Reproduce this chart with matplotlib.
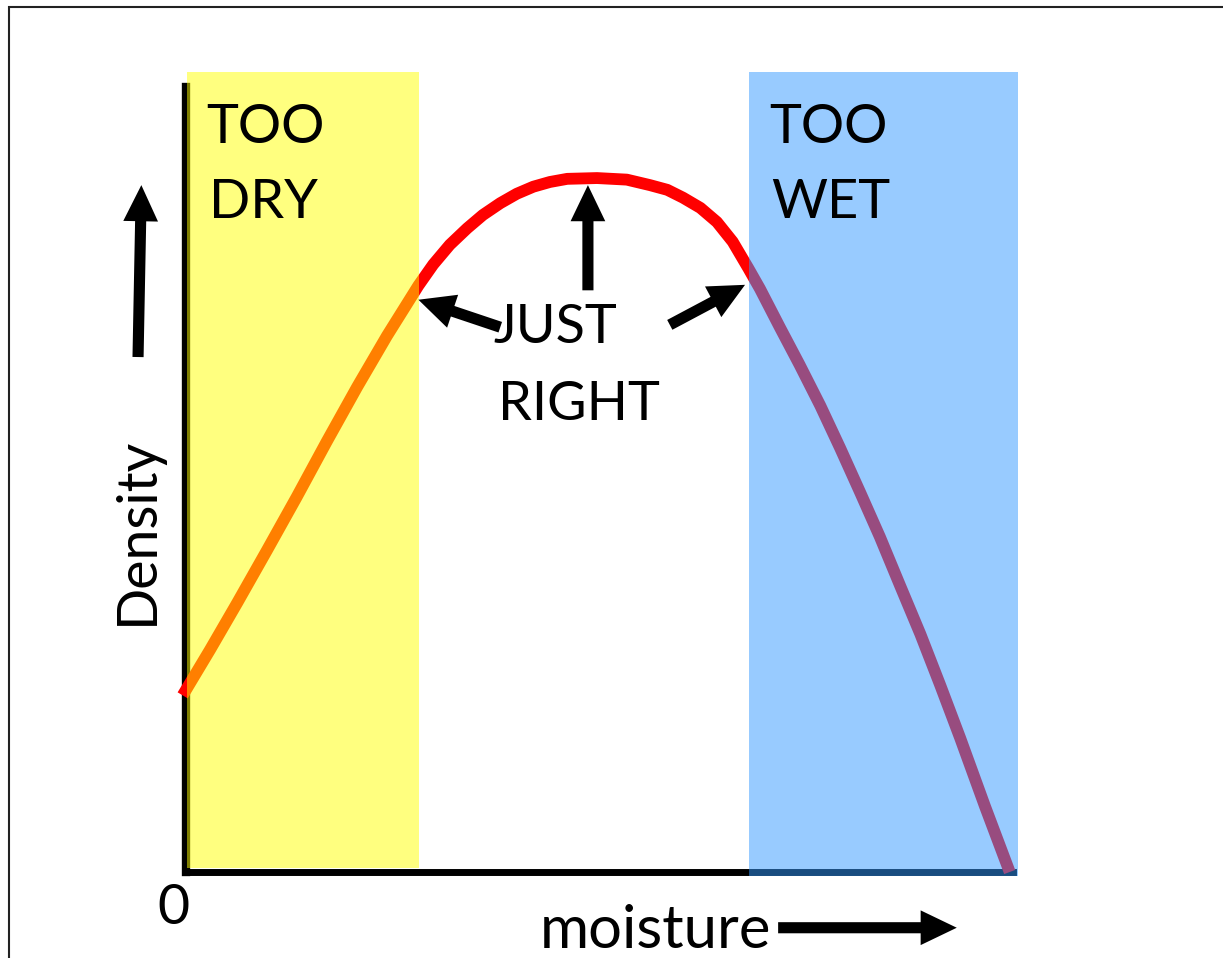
import matplotlib.pyplot as plt
from matplotlib.patches import Rectangle

plt.rcParams['font.family'] = ['Lato', 'DejaVu Sans']

# density curve (moisture 0-10, density 0-10)
moisture = [-0.04, 0.29, 0.62, 0.98, 1.34, 1.70, 2.07, 2.43, 2.81, 2.99, 3.19,
            3.40, 3.59, 3.80, 4.00, 4.20, 4.40, 4.61, 4.97, 5.33, 5.61, 5.82,
            6.01, 6.22, 6.42, 6.61, 6.80, 6.94, 7.18, 7.42, 7.67, 7.91, 8.15,
            8.39, 8.63, 8.88, 9.12, 9.36, 9.66, 9.96]
density = [2.25, 2.83, 3.43, 4.10, 4.78, 5.48, 6.18, 6.83, 7.47, 7.74, 7.99,
           8.20, 8.37, 8.52, 8.64, 8.73, 8.79, 8.83, 8.84, 8.82, 8.75, 8.69,
           8.59, 8.46, 8.28, 8.03, 7.69, 7.43, 6.94, 6.46, 5.94, 5.40, 4.84,
           4.27, 3.66, 3.03, 2.38, 1.71, 0.84, 0.0]

# zones: label lines, x start/end, y bottom/top, colour
zone_labels = [["TOO", "DRY"], ["TOO", "WET"]]
zone_x0 = [0.01, 6.81]
zone_x1 = [2.82, 10.06]
zone_y0 = [0.05, -0.05]
zone_y1 = [10.19, 10.19]
zone_colors = ["#FFFF00", "#3399FF"]

fig = plt.figure(figsize=(12.23, 9.58), dpi=100)
ax = fig.add_axes([186 / 1223, 86 / 958, 827 / 1223, 785 / 958])
ax.set_xlim(0, 10)
ax.set_ylim(0, 10)
ax.set_xticks([])
ax.set_yticks([])
ax.patch.set_alpha(0)
ax.spines['top'].set_visible(False)
ax.spines['right'].set_visible(False)
ax.spines['left'].set_linewidth(6)
ax.spines['bottom'].set_linewidth(5)
ax.spines['left'].set_zorder(1.5)
ax.spines['bottom'].set_zorder(1.5)

ax.plot(moisture, density, color="red", lw=8.5, solid_capstyle="butt",
        solid_joinstyle="round", zorder=2, clip_on=False)

for i in range(len(zone_labels)):
    ax.add_patch(Rectangle((zone_x0[i], zone_y0[i]), zone_x1[i] - zone_x0[i], zone_y1[i] - zone_y0[i],
                           facecolor=zone_colors[i], alpha=0.5, lw=0, zorder=3, clip_on=False))
    ax.text(zone_x0[i] + 0.24, 9.29, zone_labels[i][0], fontsize=39, va="baseline", zorder=4)
    ax.text(zone_x0[i] + 0.27, 8.33, zone_labels[i][1], fontsize=39, va="baseline", zorder=4)

ax.text(3.72, 6.74, "JUST", fontsize=39, va="baseline", zorder=4)
ax.text(3.77, 5.76, "RIGHT", fontsize=39, va="baseline", zorder=4)
ax.text(-0.59, 4.34, "Density", fontsize=40, rotation=90, ha="center", va="center", clip_on=False)
ax.text(-0.15, -0.46, "0", fontsize=40, ha="center", va="center", clip_on=False)
ax.text(4.28, -0.97, "moisture", fontsize=43, va="baseline", clip_on=False)

arrow = dict(arrowstyle="simple,head_width=2.5,head_length=2.6,tail_width=0.8",
             mutation_scale=10, color="black", shrinkA=0, shrinkB=0, lw=0)
ax.annotate("", xy=(-0.54, 8.75), xytext=(-0.58, 6.56), arrowprops=arrow, annotation_clip=False, zorder=5)
ax.annotate("", xy=(4.86, 8.75), xytext=(4.86, 7.41), arrowprops=arrow, zorder=5)
ax.annotate("", xy=(2.81, 7.29), xytext=(3.80, 6.94), arrowprops=arrow, zorder=5)
ax.annotate("", xy=(6.76, 7.48), xytext=(5.85, 6.97), arrowprops=arrow, zorder=5)
ax.annotate("", xy=(9.32, -0.71), xytext=(7.16, -0.71), arrowprops=arrow, annotation_clip=False, zorder=5)

# thin frame round the slide, cut off at right and bottom
fig.add_artist(Rectangle((8.5 / 1223, -0.1), 1.2, 1 - 7 / 958 + 0.1, transform=fig.transFigure,
                         fill=False, edgecolor="#222222", lw=1.5))

fig.savefig("out.png", dpi=100)
